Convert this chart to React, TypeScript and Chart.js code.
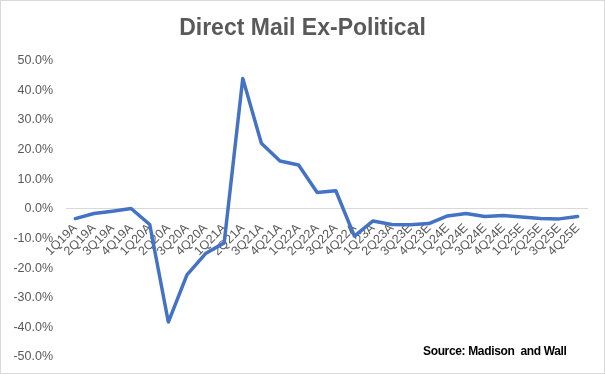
import React, { useEffect, useRef } from "react";
import { Chart, registerables } from "chart.js";

Chart.register(...registerables);

const categories = [
  "1Q19A", "2Q19A", "3Q19A", "4Q19A",
  "1Q20A", "2Q20A", "3Q20A", "4Q20A",
  "1Q21A", "2Q21A", "3Q21A", "4Q21A",
  "1Q22A", "2Q22A", "3Q22A", "4Q22A",
  "1Q23A", "2Q23A", "3Q23E", "4Q23E",
  "1Q24E", "2Q24E", "3Q24E", "4Q24E",
  "1Q25E", "2Q25E", "3Q25E", "4Q25E",
];

const growthPct = [
  -3.3, -1.6, -0.8, 0.1,
  -5.3, -38.2, -22.3, -15.1,
  -11.5, 44.0, 22.1, 16.1,
  14.8, 5.5, 6.1, -9.2,
  -4.1, -5.3, -5.4, -5.0,
  -2.4, -1.6, -2.6, -2.3,
  -2.8, -3.3, -3.4, -2.6,
];

const yMin = -50;
const yMax = 50;
const yStep = 10;

const chartTitle = "Direct Mail Ex-Political";
const sourceNote = "Source: Madison\u00a0 and Wall";

export default function App() {
  const ref = useRef<HTMLCanvasElement | null>(null);

  useEffect(() => {
    if (!ref.current) return;
    const chart = new Chart(ref.current, {
      type: "line",
      data: {
        labels: categories,
        datasets: [
          {
            data: growthPct,
            borderColor: "#4472C4",
            borderWidth: 3.5,
            pointRadius: 0,
            tension: 0,
            borderCapStyle: "round",
            borderJoinStyle: "round",
            yAxisID: "y",
          },
        ],
      },
      options: {
        responsive: false,
        animation: false,
        layout: { padding: { top: 0, left: 0, right: 0, bottom: 16 } },
        plugins: {
          legend: { display: false },
          tooltip: { enabled: false },
          title: {
            display: true,
            text: chartTitle,
            color: "#595959",
            font: { family: "'Liberation Sans', Arial, sans-serif", size: 23, weight: "bold" },
            padding: { top: 14, bottom: 18 },
          },
        },
        scales: {
          x: {
            type: "category",
            position: { y: 0 } as any,
            offset: true,
            grid: { display: false, drawTicks: false },
            border: { display: true, color: "#D9D9D9", width: 1 },
            ticks: {
              autoSkip: false,
              minRotation: 45,
              maxRotation: 45,
              padding: 12,
              color: "#595959",
              font: { family: "'Liberation Sans', Arial, sans-serif", size: 12.5 },
            },
          },
          y: {
            min: yMin,
            max: yMax,
            grid: { display: false, drawTicks: true, tickLength: 13 },
            border: { display: false },
            afterFit: (scale: any) => {
              scale.width = 65;
            },
            ticks: {
              stepSize: yStep,
              padding: 0,
              color: "#595959",
              font: { family: "'Liberation Sans', Arial, sans-serif", size: 12.5 },
              callback: (v: any) => Number(v).toFixed(1) + "%",
            },
          },
          spacer: {
            type: "linear",
            position: "right",
            min: yMin,
            max: yMax,
            grid: { display: false, drawTicks: false },
            border: { display: false },
            ticks: { display: false },
            afterFit: (scale: any) => {
              scale.width = 17;
            },
          },
        },
      },
    });
    return () => chart.destroy();
  }, []);

  return (
    <div
      style={{
        position: "absolute",
        left: 0,
        top: 0,
        width: 605,
        height: 374,
        boxSizing: "border-box",
        border: "1px solid #D9D9D9",
        background: "#fff",
      }}
    >
      <canvas ref={ref} width={603} height={372} style={{ display: "block" }} />
      <div
        style={{
          position: "absolute",
          left: 422,
          top: 343,
          fontFamily: "'Liberation Sans', Arial, sans-serif",
          fontWeight: "bold",
          fontSize: 12,
          letterSpacing: "-0.35px",
          color: "#000",
          whiteSpace: "nowrap",
        }}
      >
        {sourceNote}
      </div>
    </div>
  );
}
